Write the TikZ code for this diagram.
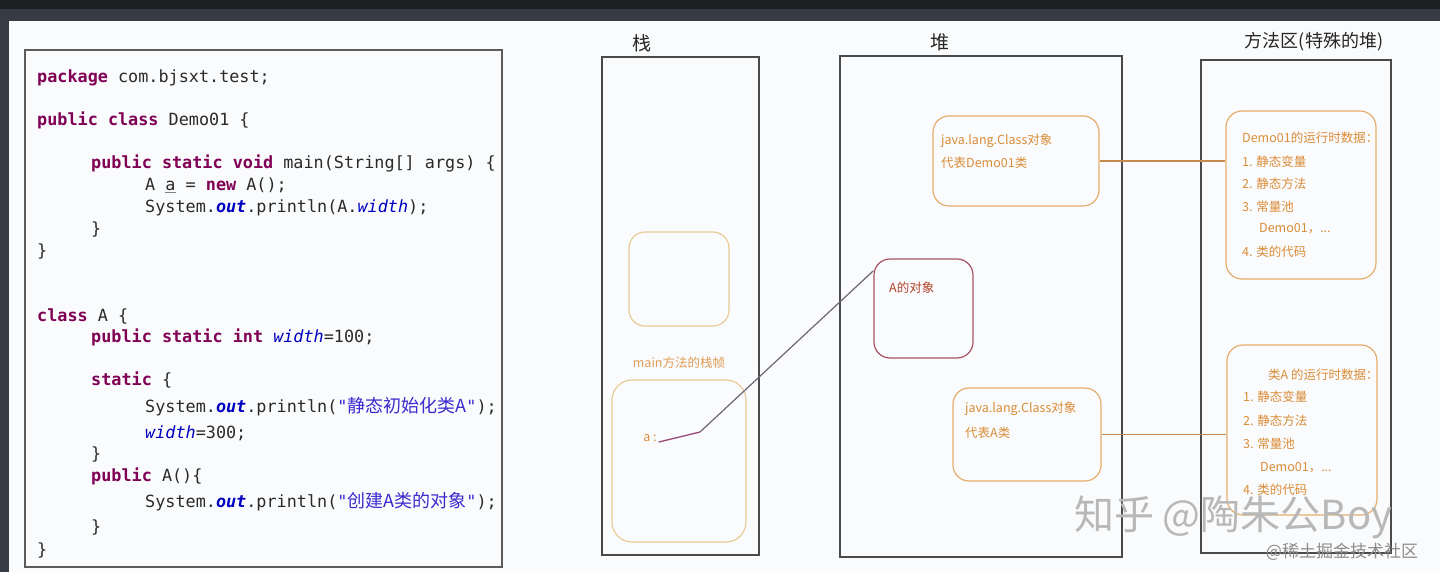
\documentclass[tikz,border=0pt]{standalone}
\usepackage{fontspec}
\setmonofont{DejaVu Sans Mono}
\newfontfamily\cjk{Noto Sans CJK SC}
\definecolor{topbar}{HTML}{1E1F23}
\definecolor{sidebar}{HTML}{373B46}
\definecolor{paper}{HTML}{FAFBFC}
\definecolor{kwc}{HTML}{7F0055}
\definecolor{fldc}{HTML}{0000C0}
\definecolor{strc}{HTML}{3A2AD0}
\definecolor{codetxt}{HTML}{2A2A2A}
\definecolor{frame}{HTML}{4A4A4A}
\definecolor{orbox}{HTML}{E6AE6E}
\definecolor{palebox}{HTML}{E8CB96}
\definecolor{ortext}{HTML}{DA8C38}
\definecolor{objbox}{HTML}{A85462}
\definecolor{objtext}{HTML}{B0442A}
\definecolor{linkc}{HTML}{C98A50}
\definecolor{ptrc}{HTML}{6E6670}
\definecolor{ptrc2}{HTML}{9A4A7A}
\newcommand\kw[1]{{\bfseries\color{kwc}#1}}
\newcommand\fld[1]{{\itshape\color{fldc}#1}}
\newcommand\outf{{\bfseries\itshape\color{fldc}out}}
\newcommand\jstr[1]{{\color{strc}"{\cjk\fontsize{18}{20}\selectfont #1}"}}
\begin{document}
\begin{tikzpicture}[x=1pt,y=-1pt,
  codeline/.style={anchor=base west, inner sep=0pt, font=\ttfamily\fontsize{16.8}{20}\selectfont, text=codetxt},
  region/.style={draw=frame, line width=1.5pt, fill=none, inner sep=0pt},
  heading/.style={font=\cjk\fontsize{19}{22}\selectfont, text=black!85, inner sep=0pt},
  rbox/.style={draw=#1, line width=1.2pt, rounded corners=16pt, inner sep=0pt},
  dtext/.style={anchor=west, inner sep=0pt, font=\cjk\fontsize{12.5}{15}\selectfont, text=ortext},
  link/.style={draw=linkc, line width=1.2pt},
  ptr/.style={draw=ptrc, line width=1.2pt}
]
\useasboundingbox (0,0) rectangle (1440,572);
% screen background
\fill[sidebar] (0,0) rectangle (1440,572);
\fill[topbar] (0,0) rectangle (1440,9);
\fill[paper] (9,21) rectangle (1440,572);

% ---------- code panel ----------
\node[region, draw=frame!90, minimum width=477pt, minimum height=517pt] (code) at (263.5,308.5) {};
\node[codeline] (l1) at (37,83) {\kw{package} com.bjsxt.test;};
\node[codeline] (l2) at (37,126) {\kw{public} \kw{class} Demo01 \{};
\node[codeline] (l3) at (91,169) {\kw{public} \kw{static} \kw{void} main(String[] args) \{};
\node[codeline] (l4) at (145,191) {A {\color{gray}\underline{\color{codetxt}a}} = \kw{new} A();};
\node[codeline] (l5) at (145,212) {System.\outf.println(A.\fld{width});};
\node[codeline] (l6) at (91,234) {\}};
\node[codeline] (l7) at (37,256) {\}};
\node[codeline] (l8) at (37,321) {\kw{class} A \{};
\node[codeline] (l9) at (91,342) {\kw{public} \kw{static} \kw{int} \fld{width}=100;};
\node[codeline] (l10) at (91,385) {\kw{static} \{};
\node[codeline] (l11) at (145,412) {System.\outf.println(\jstr{静态初始化类A});};
\node[codeline] (l12) at (145,438) {\fld{width}=300;};
\node[codeline] (l13) at (91,459) {\}};
\node[codeline] (l14) at (91,481) {\kw{public} A()\{};
\node[codeline] (l15) at (145,507) {System.\outf.println(\jstr{创建A类的对象});};
\node[codeline] (l16) at (91,532) {\}};
\node[codeline] (l17) at (37,555) {\}};

% ---------- headings ----------
\node[heading] (hstack) at (642,43) {栈};
\node[heading] (hheap) at (940,42) {堆};
\node[heading, font=\cjk\fontsize{18}{22}\selectfont] (hmeth) at (1314,42) {方法区(特殊的堆)};

% ---------- regions ----------
\node[region, minimum width=157pt, minimum height=498pt] (stack) at (680.5,306) {};
\node[region, minimum width=282pt, minimum height=501pt] (heap) at (981,306.5) {};
\node[region, minimum width=190pt, minimum height=493pt] (meth) at (1296,306.5) {};

% ---------- stack contents ----------
\node[rbox=palebox, minimum width=100pt, minimum height=94pt] (empty) at (679,279) {};
\node[dtext, anchor=center, text=ortext!85] (flabel) at (679,363) {main方法的栈帧};
\node[rbox=palebox, rounded corners=20pt, minimum width=134pt, minimum height=162pt] (frm) at (679,461) {};
\node[dtext, anchor=center] (avar) at (650,438) {a :};

% ---------- heap contents ----------
\node[rbox=orbox, minimum width=166pt, minimum height=90pt] (cls1) at (1016,161) {};
\node[dtext] (cls1a) at (941,141) {java.lang.Class对象};
\node[dtext] (cls1b) at (941,163) {代表Demo01类};
\node[rbox=objbox, minimum width=99pt, minimum height=99pt] (aobj) at (923.5,308.5) {};
\node[dtext, text=objtext] (aobjt) at (889,288) {A的对象};
\node[rbox=orbox, minimum width=148pt, minimum height=93pt] (cls2) at (1027,434.5) {};
\node[dtext] (cls2a) at (965,409) {java.lang.Class对象};
\node[dtext] (cls2b) at (965,433) {代表A类};

% ---------- method area contents ----------
\node[rbox=orbox, minimum width=150pt, minimum height=168pt] (m1) at (1301,195) {};
\node[dtext] (m1a) at (1242,138) {Demo01的运行时数据：};
\node[dtext] (m1b) at (1242,162) {1. 静态变量};
\node[dtext] (m1c) at (1242,184) {2. 静态方法};
\node[dtext] (m1d) at (1242,207) {3. 常量池};
\node[dtext] (m1e) at (1259,229) {Demo01，...};
\node[dtext] (m1f) at (1242,252) {4. 类的代码};

\node[rbox=orbox, minimum width=150pt, minimum height=170pt] (m2) at (1302,430) {};
\node[dtext] (m2a) at (1268,375) {类A 的运行时数据：};
\node[dtext] (m2b) at (1243,397) {1. 静态变量};
\node[dtext] (m2c) at (1243,421) {2. 静态方法};
\node[dtext] (m2d) at (1243,444) {3. 常量池};
\node[dtext] (m2e) at (1260,468) {Demo01，...};
\node[dtext] (m2f) at (1243,490) {4. 类的代码};

% ---------- connectors ----------
\draw[link] (cls1.east) -- (cls1.east -| m1.west);
\draw[link] (cls2.east) -- (cls2.east -| m2.west);
\coordinate (bend) at (700,432);
\draw[draw=ptrc2, line width=1.3pt] ([xshift=2pt,yshift=-4pt]avar.east) -- (bend);
\draw[ptr] (bend) -- (aobj.143);

% ---------- watermarks ----------
\node[inner sep=0pt, font=\cjk\fontsize{40}{44}\selectfont, text=black!28] (wm1) at (1233,517) {知乎 @陶朱公Boy};
\node[inner sep=0pt, font=\cjk\fontsize{17}{20}\selectfont, text=black!45] (wm2) at (1342,552) {@稀土掘金技术社区};
\end{tikzpicture}
\end{document}
